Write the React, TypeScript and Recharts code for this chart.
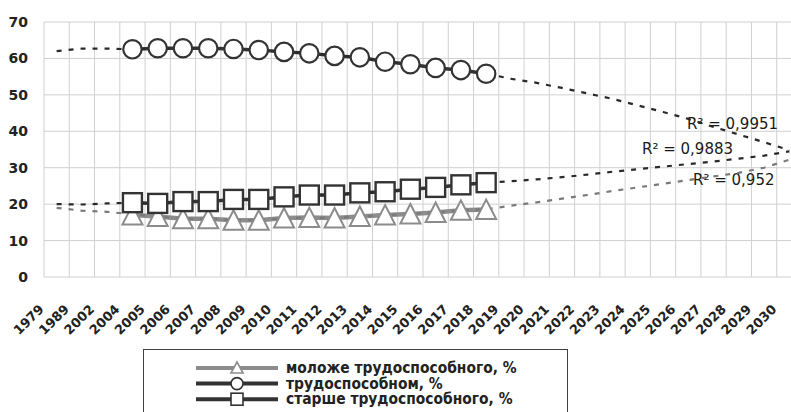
import { CartesianGrid, Legend, Line, LineChart, XAxis, YAxis } from 'recharts'

const years = [
  '1979', '1989', '2002', '2004', '2005', '2006', '2007', '2008', '2009', '2010',
  '2011', '2012', '2013', '2014', '2015', '2016', '2017', '2018', '2019', '2020',
  '2021', '2022', '2023', '2024', '2025', '2026', '2027', '2028', '2029', '2030',
]

const N = null
const youngShare = [
  N, N, N, 17.0, 16.6, 16.0, 16.0, 15.6, 15.6, 16.2, 16.3, 16.2, 16.6, 17.0, 17.3,
  17.7, 18.3, 18.5, N, N, N, N, N, N, N, N, N, N, N, N,
]
const workingShare = [
  N, N, N, 62.5, 62.8, 62.8, 62.8, 62.6, 62.3, 61.8, 61.4, 60.7, 60.3, 59.1, 58.4,
  57.4, 56.8, 55.8, N, N, N, N, N, N, N, N, N, N, N, N,
]
const olderShare = [
  N, N, N, 20.4, 20.2, 20.7, 20.7, 21.3, 21.3, 22.0, 22.5, 22.5, 23.1, 23.4, 24.1,
  24.6, 25.3, 25.9, N, N, N, N, N, N, N, N, N, N, N, N,
]

// trend lines (dotted), incl. forecast to 2030
const youngTrend = [
  19.0, 18.2, 17.9, 17.2, 16.6, 16.0, 16.0, 15.6, 15.6, 16.2, 16.3, 16.2, 16.6, 17.0, 17.3,
  17.7, 18.3, 18.6, 19.6, 20.5, 21.5, 22.5, 23.6, 24.6, 25.6, 26.6, 27.6, 28.6, 30.0, 32.2,
]
const workingTrend = [
  62.0, 62.7, 62.7, 62.5, 62.8, 62.8, 62.8, 62.6, 62.3, 61.8, 61.4, 60.7, 60.3, 59.1, 58.4,
  57.4, 56.8, 55.8, 54.4, 53.3, 51.9, 50.4, 48.9, 47.1, 45.3, 43.4, 41.2, 39.1, 37.0, 34.8,
]
const olderTrend = [
  20.0, 19.9, 20.2, 20.4, 20.2, 20.7, 20.7, 21.3, 21.3, 22.0, 22.5, 22.5, 23.1, 23.4, 24.1,
  24.6, 25.3, 25.9, 26.3, 26.8, 27.4, 28.1, 28.9, 29.6, 30.3, 31.0, 31.7, 32.5, 33.3, 34.5,
]

const yTicks = [0, 10, 20, 30, 40, 50, 60, 70]

const r2Labels = [
  { text: 'R² = 0,9951', x: 687, y: 129 },
  { text: 'R² = 0,9883', x: 642, y: 154 },
  { text: 'R² = 0,952', x: 693, y: 185 },
]

const legendItems = [
  { name: 'моложе трудоспособного, %', color: '#8c8c8c', marker: 'triangle' },
  { name: 'трудоспособном, %', color: '#333333', marker: 'circle' },
  { name: 'старше трудоспособного, %', color: '#333333', marker: 'square' },
]

const data = years.map((year, i) => ({
  year,
  young: youngShare[i],
  working: workingShare[i],
  older: olderShare[i],
  youngTrend: youngTrend[i],
  workingTrend: workingTrend[i],
  olderTrend: olderTrend[i],
}))

const FONT = '"DejaVu Sans", Arial, sans-serif'
const DARK = '#333333'
const GREY = '#8c8c8c'
const PLOT_W = 758
const HALF_BAND = PLOT_W / years.length / 2

function hasPoint(p: any) {
  return p && p.value != null && p.cy != null && !Number.isNaN(p.cy)
}

const TriangleDot = (p: any) => {
  if (!hasPoint(p)) return <g key={`t-${p.index}`} />
  const { cx, cy } = p
  return (
    <polygon
      key={`t-${p.index}`}
      points={`${cx},${cy - 10} ${cx + 10},${cy + 9.5} ${cx - 10},${cy + 9.5}`}
      fill="#fff"
      stroke={GREY}
      strokeWidth={2}
    />
  )
}

const CircleDot = (p: any) => {
  if (!hasPoint(p)) return <g key={`c-${p.index}`} />
  return <circle key={`c-${p.index}`} cx={p.cx} cy={p.cy} r={9.2} fill="#fff" stroke={DARK} strokeWidth={2.2} />
}

const SquareDot = (p: any) => {
  if (!hasPoint(p)) return <g key={`s-${p.index}`} />
  return (
    <rect
      key={`s-${p.index}`}
      x={p.cx - 9.5}
      y={p.cy - 9.5}
      width={19}
      height={19}
      fill="#fff"
      stroke={DARK}
      strokeWidth={2.4}
    />
  )
}

const renderYearTick = (props: any) => {
  const { x, y, payload, index } = props
  return (
    <g key={`yt-${index}`} transform={`translate(${x - 12}, ${y + 33}) rotate(-45)`}>
      <text x={0} y={0} textAnchor="end" fontFamily={FONT} fontSize={13} fontWeight="bold" fill="#222">
        {payload.value}
      </text>
    </g>
  )
}

function LegendBox() {
  return (
    <div style={{ width: 425, height: 70, border: '1.5px solid #404040', boxSizing: 'border-box', background: '#fff' }}>
      <svg width={422} height={66}>
        {legendItems.map((item, i) => {
          const cy = 18 + i * 15.6
          return (
            <g key={item.name}>
              <line x1={52} x2={134} y1={cy} y2={cy} stroke={item.color} strokeWidth={4} />
              {item.marker === 'triangle' && (
                <polygon points={`93,${cy - 6} 99,${cy + 5} 87,${cy + 5}`} fill="#fff" stroke={item.color} strokeWidth={1.6} />
              )}
              {item.marker === 'circle' && <circle cx={93} cy={cy} r={6} fill="#fff" stroke={item.color} strokeWidth={1.6} />}
              {item.marker === 'square' && (
                <rect x={87} y={cy - 6} width={12} height={12} fill="#fff" stroke={item.color} strokeWidth={1.6} />
              )}
              <text x={142} y={cy} dominantBaseline="central" fontFamily={'"DejaVu Sans Condensed", "Liberation Sans Narrow", "DejaVu Sans", sans-serif'} fontSize={15.4} fontWeight="bold" fill="#222">
                {item.name}
              </text>
            </g>
          )
        })}
      </svg>
    </div>
  )
}

export default function App() {
  return (
    <div style={{ position: 'absolute', left: 0, top: 0, width: 791, height: 412, overflow: 'hidden', background: '#fff' }}>
      <LineChart width={44 + PLOT_W} height={412} data={data} margin={{ top: 22, right: 0, bottom: 0, left: 0 }}>
        <CartesianGrid
          stroke="#d0d0d0"
          strokeWidth={1}
          verticalCoordinatesGenerator={({ offset }: any) =>
            Array.from({ length: years.length + 1 }, (_, i) => offset.left + (i * offset.width) / years.length)
          }
        />
        <XAxis
          dataKey="year"
          interval={0}
          height={135}
          padding={{ left: HALF_BAND, right: HALF_BAND }}
          tickLine={false}
          axisLine={false}
          tickSize={0}
          tickMargin={0}
          tick={renderYearTick}
        />
        <YAxis
          width={44}
          domain={[0, 70]}
          ticks={yTicks}
          tickLine={false}
          axisLine={false}
          tickSize={0}
          tickMargin={16}
          tick={{ fontFamily: FONT, fontSize: 14, fontWeight: 'bold', fill: '#222' }}
        />
        <Legend layout="horizontal" verticalAlign="middle" wrapperStyle={{ left: 143, top: 349, width: 425, height: 70 }} content={<LegendBox />} />
        <Line dataKey="young" name={legendItems[0].name} stroke={GREY} strokeWidth={4.5} dot={TriangleDot} activeDot={false} isAnimationActive={false} />
        <Line dataKey="working" name={legendItems[1].name} stroke={DARK} strokeWidth={3.5} dot={CircleDot} activeDot={false} isAnimationActive={false} />
        <Line dataKey="older" name={legendItems[2].name} stroke={DARK} strokeWidth={3.5} dot={SquareDot} activeDot={false} isAnimationActive={false} />
        <Line dataKey="youngTrend" legendType="none" stroke="#7a7a7a" strokeWidth={2.2} strokeDasharray="5 7" dot={false} activeDot={false} isAnimationActive={false} />
        <Line dataKey="workingTrend" legendType="none" stroke="#2a2a2a" strokeWidth={2.2} strokeDasharray="5 7" dot={false} activeDot={false} isAnimationActive={false} />
        <Line dataKey="olderTrend" legendType="none" stroke="#2a2a2a" strokeWidth={2.2} strokeDasharray="5 7" dot={false} activeDot={false} isAnimationActive={false} />
        <g>
          {r2Labels.map((l) => (
            <text key={l.text} x={l.x} y={l.y} fontFamily={FONT} fontSize={15} fill="#1a1a1a">
              {l.text}
            </text>
          ))}
        </g>
      </LineChart>
    </div>
  )
}
